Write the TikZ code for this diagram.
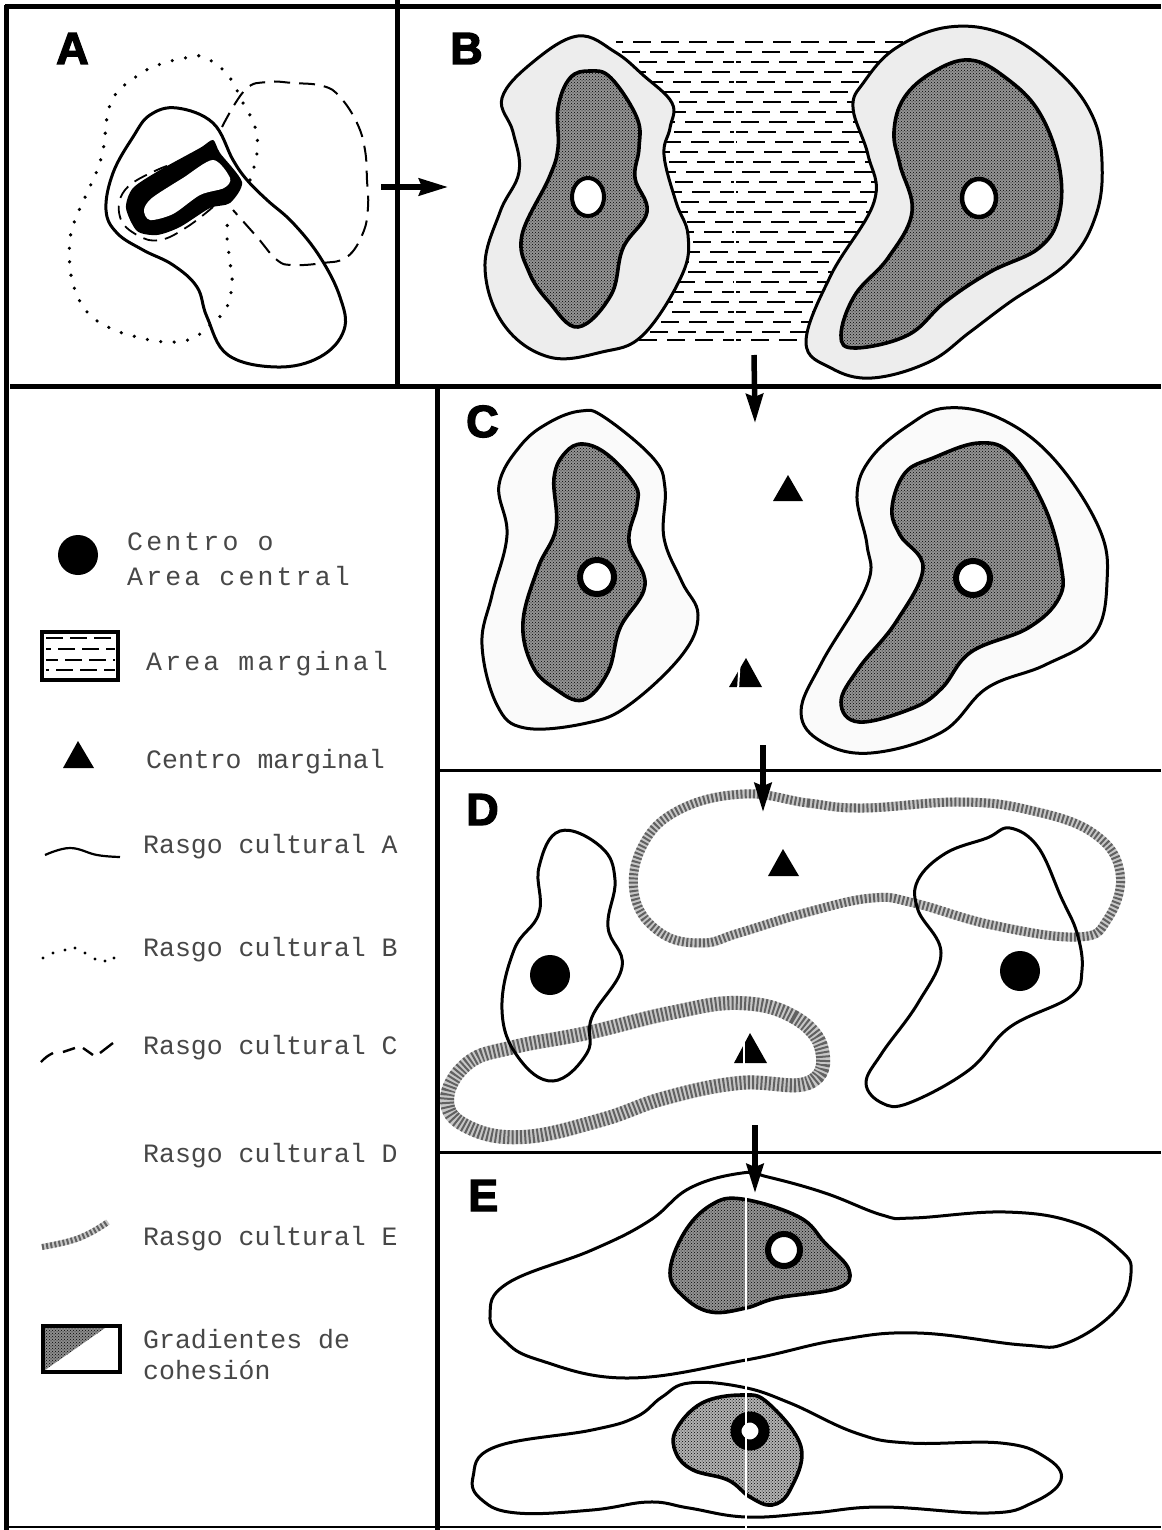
\documentclass[tikz,border=0pt]{standalone}
\usepackage{fontspec}
\usetikzlibrary{arrows.meta,patterns}
\newfontfamily\monof{Liberation Mono}
\newfontfamily\widef[LetterSpace=12]{Liberation Mono}
\newfontfamily\headf[FakeBold=3]{Liberation Sans Bold}
\tikzset{
  frame/.style={line width=5pt,black},
  thinframe/.style={line width=3pt,black},
  outline/.style={line width=3pt,black},
  inneroutline/.style={line width=3.6pt,black},
  densefill/.style={fill=black!42,postaction={pattern=crosshatch dots,pattern color=black}},
  lightfill/.style={fill=black!7},
  paperfill/.style={fill=black!2},
  ringed/.style={line width=6pt,black,fill=white},
  dotline/.style={line width=3.6pt,line cap=round,dash pattern=on 0pt off 13.5pt},
  dashline/.style={line width=2pt,dash pattern=on 16pt off 9pt},
  hatchline/.style={line width=2pt,black,dash pattern=on 18pt off 10pt},
  bandbase/.style={black!22},
  bandstripe/.style={black!62,dash pattern=on 2pt off 2.2pt},
  flow/.style={line width=5.5pt,-{Stealth[length=29pt,width=17pt,inset=3pt]}},
  letter/.style={inner sep=0pt,anchor=base west,font=\headf\fontsize{45}{45}\selectfont,text=black},
  lab/.style={inner sep=0pt,anchor=base west,font=\monof\fontsize{26.5}{30}\selectfont,text=black!72},
  wlab/.style={inner sep=0pt,anchor=base west,font=\widef\fontsize{26.5}{30}\selectfont,text=black!72},
  tri/.style={fill=black},
  foldline/.style={white,line width=2.6pt}
}
\newcommand{\bandpath}[2]{%
  \draw[bandbase,line width=#1] #2;
  \draw[bandstripe,line width=#1] #2;}
\begin{document}
\begin{tikzpicture}[x=1pt,y=-1pt]
\useasboundingbox (0,0) rectangle (1161,1530);
\fill[white] (0,0) rectangle (1161,1530);
% frame
\draw[frame] (5,7) -- (1161,7);
\draw[frame] (6,5) -- (6,1530);
\draw[frame] (397,0) -- (397,388);
\draw[frame] (10,386) -- (1161,386);
\draw[frame] (437,386) -- (437,1530);
\draw[thinframe] (440,770) -- (1161,770);
\draw[thinframe] (440,1152) -- (1161,1152);
\draw[line width=2pt] (6,1527) -- (1161,1527);

% letters
\node[letter] (la) at (56,64) {A};
\node[letter] (lb) at (450,64) {B};
\node[letter] (lc) at (466,437) {C};
\node[letter] (ld) at (466,825) {D};
\node[letter] (le) at (468,1211) {E};

% Panel A
\draw[dotline] plot[smooth,tension=0.7] coordinates {(250,180)(257,153)(255,127)(243,103)(227,74)(203,57)(185,58)(158,65)(137,76)(115,95)(107,118)(104,145)(98,168)(87,193)(75,220)(70,240)(70,267)(75,290)(88,313)(110,328)(137,337)(167,342)(193,338)(216,320)(227,307)(232,283)(230,262)(227,237)(228,218)};
\draw[dashline] plot[smooth,tension=0.7] coordinates {(222,127)(245,90)(267,82)(293,83)(323,86)(340,97)(357,123)(365,150)(367,180)(368,207)(363,233)(347,257)(323,263)(293,265)(277,260)(257,237)(233,210)};
\draw[dashline,dash pattern=on 14pt off 8pt,line width=1.8pt] plot[smooth,tension=0.7] coordinates {(213,207)(187,227)(160,240)(137,235)(120,217)(125,190)(157,170)(187,160)};
\draw[outline] plot[smooth cycle,tension=0.65] coordinates {(177,108)(213,123)(233,160)(247,180)(267,200)(293,223)(320,257)(340,297)(344,330)(320,357)(277,367)(228,355)(207,317)(197,287)(173,265)(143,250)(117,233)(106,210)(113,173)(133,137)(150,115)};
\fill[black] plot[smooth cycle,tension=0.45] coordinates {(213,140)(220,153)(242,182)(230,203)(210,208)(180,227)(157,235)(137,231)(126,208)(133,188)(160,170)(200,148)};
\fill[white] plot[smooth cycle,tension=0.5] coordinates {(213,160)(230,178)(224,188)(200,195)(173,214)(150,220)(144,210)(152,198)(183,178)};

% Panel B hatch
\foreach \yy [count=\ii] in {42,52,62,72,82,92,102,112,122,132,142,152,162,172,182,192,202,212,222,232,242,252,262,272,282,292,302,312,322,332,340}{
  \pgfmathsetmacro{\ph}{mod(\ii*11,28)}
  \draw[hatchline,dash phase=\ph pt] (616,\yy) -- (905,\yy);
}
\draw[foldline] (735,38) -- (735,345);
\draw[outline,lightfill] plot[smooth cycle,tension=0.65] coordinates {(578,36)(615,52)(643,75)(672,103)(670,128)(664,155)(676,202)(688,235)(682,275)(643,335)(602,352)(549,357)(504,325)(485,268)(500,212)(519,172)(513,132)(502,98)(533,62)};
\draw[inneroutline,densefill] plot[smooth cycle,tension=0.65] coordinates {(590,71)(611,78)(637,118)(639,148)(635,178)(647,212)(623,248)(611,295)(578,327)(549,302)(529,272)(522,235)(549,178)(558,148)(558,108)(570,78)};
\draw[line width=4pt,fill=white] (588,197) ellipse[x radius=16,y radius=19];
\draw[outline,lightfill] plot[smooth cycle,tension=0.65] coordinates {(949,27)(1006,35)(1059,72)(1092,115)(1102,162)(1096,215)(1068,262)(1010,302)(970,332)(929,362)(872,378)(831,368)(806,342)(831,275)(874,202)(868,155)(853,108)(864,82)(896,48)};
\draw[inneroutline,densefill] plot[smooth cycle,tension=0.65] coordinates {(970,60)(1006,78)(1039,112)(1059,165)(1059,215)(1039,248)(990,272)(945,302)(908,335)(855,348)(841,335)(855,295)(888,258)(912,212)(900,165)(894,132)(904,98)(933,72)};
\draw[line width=4.5pt,fill=white] (979,198) ellipse[x radius=17,y radius=19];

% Panel C
\draw[outline,paperfill] plot[smooth cycle,tension=0.65] coordinates {(581,411)(604,417)(653,458)(665,488)(664,538)(682,582)(698,615)(682,655)(629,705)(587,723)(525,728)(497,705)(482,645)(492,595)(507,535)(499,485)(521,445)(550,422)};
\draw[inneroutline,densefill] plot[smooth cycle,tension=0.65] coordinates {(583,444)(608,455)(635,485)(637,505)(629,542)(645,585)(620,628)(608,672)(583,700)(554,688)(532,665)(523,622)(538,568)(556,528)(554,478)(565,453)};
\draw[ringed] (597,577) circle[radius=17];
\draw[outline,paperfill] plot[smooth cycle,tension=0.65] coordinates {(946,408)(999,418)(1053,458)(1099,528)(1107,582)(1094,635)(1045,665)(987,688)(942,732)(871,753)(822,742)(801,712)(822,662)(867,585)(867,545)(857,495)(871,458)(909,425)};
\draw[inneroutline,densefill] plot[smooth cycle,tension=0.65] coordinates {(979,443)(1012,455)(1045,508)(1061,565)(1059,598)(1028,628)(971,652)(942,688)(913,708)(859,722)(841,702)(859,668)(896,622)(923,568)(900,535)(892,508)(905,473)(933,458)};
\draw[ringed] (973,578) circle[radius=17];
\fill[tri] (788,475) -- (803,501) -- (773,501) -- cycle;
\fill[tri] (746,658) -- (762,687) -- (729,687) -- cycle;
\draw[white,line width=2pt] (740,656) -- (738,690);

% Panel D
\bandpath{9pt}{plot[smooth cycle,tension=0.7] coordinates {(744,794)(808,803)(863,808)(960,802)(1029,810)(1093,833)(1120,873)(1107,920)(1077,937)(992,925)(914,903)(872,898)(808,912)(739,933)(702,943)(661,933)(635,897)(642,847)(679,810)}}
\bandpath{14pt}{plot[smooth cycle,tension=0.7] coordinates {(739,1003)(794,1017)(822,1050)(808,1083)(739,1083)(665,1098)(601,1120)(523,1137)(468,1127)(447,1100)(468,1063)(514,1047)(587,1033)(670,1013)}}
\draw[outline] plot[smooth cycle,tension=0.7] coordinates {(560,831)(601,847)(615,880)(608,927)(622,967)(592,1017)(587,1053)(553,1081)(518,1057)(502,1010)(514,950)(539,913)(539,867)};
\draw[outline] plot[smooth cycle,tension=0.65] coordinates {(1010,828)(1038,847)(1061,897)(1077,933)(1082,970)(1070,997)(1010,1027)(969,1070)(909,1103)(882,1103)(866,1083)(882,1053)(918,1003)(941,953)(918,910)(918,880)(946,853)(987,838)};
\fill[black] (550,975) circle[radius=20];
\fill[black] (1020,971) circle[radius=20];
\fill[tri] (783,849) -- (799,876) -- (768,876) -- cycle;
\fill[tri] (750,1033) -- (767,1063) -- (734,1063) -- cycle;
\draw[white,line width=2pt] (744,1033) -- (744,1065);

% Panel E
\draw[outline] plot[smooth cycle,tension=0.7] coordinates {(742,1173)(768,1177)(825,1193)(882,1215)(913,1218)(1006,1212)(1076,1223)(1120,1250)(1131,1273)(1116,1310)(1067,1343)(1023,1345)(918,1333)(838,1340)(746,1360)(627,1378)(539,1360)(504,1340)(490,1315)(508,1283)(592,1250)(649,1221)(690,1188)};
\draw[inneroutline,densefill] plot[smooth cycle,tension=0.65] coordinates {(742,1199)(799,1217)(825,1243)(849,1270)(838,1288)(777,1298)(746,1308)(711,1312)(684,1297)(670,1273)(684,1233)(711,1205)};
\draw[ringed] (784,1250) circle[radius=16];
\draw[outline] plot[smooth cycle,tension=0.7] coordinates {(689,1383)(742,1387)(790,1403)(856,1433)(909,1443)(1001,1443)(1045,1457)(1061,1480)(1032,1503)(988,1513)(882,1507)(812,1513)(746,1517)(689,1508)(649,1502)(592,1510)(517,1513)(482,1500)(473,1477)(495,1447)(592,1430)(636,1417)(662,1397)};
\draw[inneroutline,densefill,fill=black!30] plot[smooth cycle,tension=0.65] coordinates {(742,1395)(768,1403)(801,1447)(790,1490)(772,1505)(750,1497)(728,1480)(693,1470)(676,1453)(676,1430)(702,1403)};
\draw[line width=11pt,fill=white] (750,1431) circle[radius=14];
\draw[foldline] (746,1194) -- (746,1314);
\draw[foldline] (746,1355) -- (746,1365);
\draw[foldline] (746,1383) -- (746,1530);

% flow arrows
\coordinate (abS) at (381,187);
\coordinate (abE) at (448,187);
\coordinate (bcS) at (754,355);
\coordinate (bcE) at (755,423);
\coordinate (cdS) at (763,745);
\coordinate (cdE) at (763,812);
\coordinate (deS) at (755,1125);
\coordinate (deE) at (755,1193);
\draw[flow] (abS) -- (abE);
\draw[flow] (bcS) -- (bcE);
\draw[flow] (cdS) -- (cdE);
\draw[flow] (deS) -- (deE);

% Legend
\fill[black] (78,555) circle[radius=20];
\node[wlab] (t1) at (127,550) {Centro o};
\node[wlab] (t2) at (127,585) {Area central};
\draw[line width=3.6pt] (42,632) rectangle (118,680);
\foreach \yy/\ph in {638/0,649/12,660/5,670/14}{
  \draw[line width=1.8pt,dash pattern=on 17pt off 7pt,dash phase=\ph pt] (46,\yy) -- (115,\yy);
}
\node[wlab] (t3) at (146,670) {Area marginal};
\fill[tri] (78,741) -- (94,768) -- (63,768) -- cycle;
\node[lab] (t4) at (146,768) {Centro marginal};
\draw[line width=2.2pt] plot[smooth,tension=0.7] coordinates {(45,855)(70,848)(97,855)(120,857)};
\node[lab] (t5) at (143,853) {Rasgo cultural A};
\foreach \dx/\dy [count=\di] in {43/958,53/953,65/950,75/948,85/953,95/959,105/961,114/958}{
  \fill[black] (\dx,\dy) circle[radius=1.7];
}
\node[lab] (t6) at (143,956) {Rasgo cultural B};
\draw[line width=2.4pt] (41,1062) to[bend left=10] (53,1053);
\draw[line width=2.4pt] (63,1052) -- (75,1048);
\draw[line width=2.4pt] (83,1048) -- (93,1055);
\draw[line width=2.4pt] (100,1053) -- (113,1043);
\node[lab] (t7) at (143,1054) {Rasgo cultural C};
\node[lab] (t8) at (143,1162) {Rasgo cultural D};
\bandpath{6pt}{plot[smooth,tension=0.7] coordinates {(42,1247)(70,1241)(90,1233)(108,1222)}}
\node[lab] (t9) at (143,1245) {Rasgo cultural E};
\fill[black!45,postaction={pattern=crosshatch dots,pattern color=black}] (45,1328) -- (105,1328) -- (45,1370) -- cycle;
\draw[line width=4pt] (43,1326) rectangle (120,1372);
\node[lab] (t10) at (143,1348) {Gradientes de};
\node[lab] (t11) at (143,1379) {cohesión};
\end{tikzpicture}
\end{document}
